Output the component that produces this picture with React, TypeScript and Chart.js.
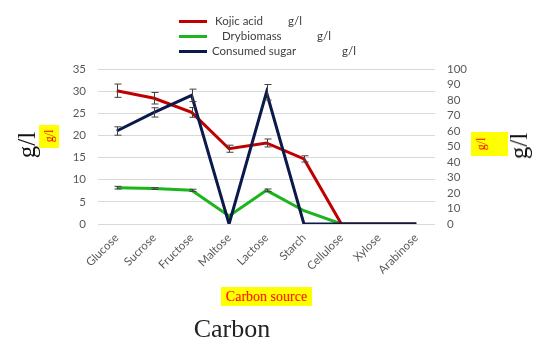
import React, { useEffect, useRef } from "react";
import { Chart, registerables } from "chart.js";

Chart.register(...registerables);

const categories = ["Glucose", "Sucrose", "Fructose", "Maltose", "Lactose", "Starch", "Cellulose", "Xylose", "Arabinose"];
const kojicAcid = [30.1, 28.4, 25.2, 17.0, 18.3, 14.7, 0, 0, 0];
const kojicErr = [1.5, 1.3, 1.1, 0.8, 0.9, 0.7, 0, 0, 0];
const dryBiomass = [8.2, 8.0, 7.6, 1.8, 7.6, 3.0, 0, 0, 0];
const dryErr = [0.3, 0.2, 0.25, 0, 0.3, 0, 0, 0, 0];
const consumedSugar = [60, 72, 83, 0, 85, 0, 0, 0, 0];
const sugarErr = [2.7, 3, 4, 0, 5, 0, 0, 0, 0];
const leftTicks = { min: 0, max: 35, step: 5 };
const rightTicks = { min: 0, max: 100, step: 10 };

const RED = "#C00000";
const GREEN = "#1DB51D";
const NAVY = "#0B1A4A";
const TICK_FONT = { family: "Lato, 'Liberation Sans', sans-serif", size: 11.5 };

const errorBarPlugin = {
  id: "errorBars",
  afterDatasetsDraw(chart: any) {
    const ctx = chart.ctx;
    const xScale = chart.scales.x;
    ctx.save();
    ctx.strokeStyle = "#404040";
    ctx.lineWidth = 1;
    chart.data.datasets.forEach((ds: any) => {
      const errs: number[] = ds.errors || [];
      const yScale = chart.scales[ds.yAxisID];
      ds.data.forEach((v: number, i: number) => {
        const e = errs[i];
        if (!e) return;
        const x = Math.round(xScale.getPixelForValue(i)) + 0.5;
        const yt = yScale.getPixelForValue(v + e);
        const yb = yScale.getPixelForValue(v - e);
        ctx.beginPath();
        ctx.moveTo(x, yt);
        ctx.lineTo(x, yb);
        ctx.moveTo(x - 3, yt);
        ctx.lineTo(x + 4, yt);
        ctx.moveTo(x - 3, yb);
        ctx.lineTo(x + 4, yb);
        ctx.stroke();
      });
    });
    ctx.restore();
  },
};

function Rotated({ cx, cy, text, style }: { cx: number; cy: number; text: string; style: any }) {
  return (
    <div
      style={{
        position: "absolute",
        left: cx,
        top: cy,
        transform: "translate(-50%, -50%) rotate(-90deg)",
        whiteSpace: "nowrap",
        ...style,
      }}
    >
      {text}
    </div>
  );
}

const legendItems = [
  { label: "Kojic acid", color: RED, y: 21.5, tx: 215, ux: 288 },
  { label: "Drybiomass", color: GREEN, y: 36.5, tx: 222, ux: 317 },
  { label: "Consumed sugar", color: NAVY, y: 51.5, tx: 212, ux: 342 },
];

export default function App() {
  const ref = useRef<HTMLCanvasElement>(null);

  useEffect(() => {
    if (!ref.current) return;
    const chart = new Chart(ref.current, {
      type: "line",
      data: {
        labels: categories,
        datasets: [
          {
            label: "Consumed sugar g/l",
            data: consumedSugar,
            errors: sugarErr,
            yAxisID: "y1",
            borderColor: NAVY,
            backgroundColor: NAVY,
            borderWidth: 3,
            pointRadius: 0,
            tension: 0,
            fill: false,
            order: 0,
          } as any,
          {
            label: "Kojic acid g/l",
            data: kojicAcid,
            errors: kojicErr,
            yAxisID: "y",
            borderColor: RED,
            backgroundColor: RED,
            borderWidth: 3,
            pointRadius: 0,
            tension: 0,
            fill: false,
            order: 1,
          } as any,
          {
            label: "Drybiomass g/l",
            data: dryBiomass,
            errors: dryErr,
            yAxisID: "y",
            borderColor: GREEN,
            backgroundColor: GREEN,
            borderWidth: 3,
            pointRadius: 0,
            tension: 0,
            fill: false,
            order: 2,
          } as any,
        ],
      },
      options: {
        animation: false,
        responsive: false,
        layout: { padding: { top: 69, left: 0, right: 0, bottom: 0 } },
        plugins: { legend: { display: false }, tooltip: { enabled: false } },
        scales: {
          x: {
            type: "category",
            offset: true,
            grid: { display: false, drawTicks: false },
            border: { display: false },
            ticks: {
              minRotation: 45,
              maxRotation: 45,
              autoSkip: false,
              padding: 7,
              color: "#595959",
              font: TICK_FONT,
            },
            afterFit: (s: any) => {
              s.height = 339 - 224;
            },
          },
          y: {
            position: "left",
            min: leftTicks.min,
            max: leftTicks.max,
            ticks: { stepSize: leftTicks.step, autoSkip: false, padding: 12, color: "#595959", font: TICK_FONT },
            grid: { color: "#d9d9d9", lineWidth: 1, drawTicks: false },
            border: { display: false },
            afterFit: (s: any) => {
              s.width = 98;
            },
          },
          y1: {
            position: "right",
            min: rightTicks.min,
            max: rightTicks.max,
            ticks: { stepSize: rightTicks.step, autoSkip: false, padding: 12, color: "#595959", font: TICK_FONT },
            grid: { display: false, drawTicks: false },
            border: { display: false },
            afterFit: (s: any) => {
              s.width = 99;
            },
          },
        },
      } as any,
      plugins: [errorBarPlugin],
    });
    return () => chart.destroy();
  }, []);

  const legendFont = {
    fontFamily: "Lato, 'Liberation Sans', sans-serif",
    fontSize: 11.5,
    color: "#404040",
  };

  return (
    <div
      style={{
        position: "fixed",
        left: 0,
        top: 0,
        width: 534,
        height: 339,
        background: "#ffffff",
        overflow: "hidden",
      }}
    >
      <canvas ref={ref} width={534} height={339} style={{ position: "absolute", left: 0, top: 0, width: 534, height: 339 }} />

      {legendItems.map((it) => (
        <React.Fragment key={it.label}>
          <div
            style={{
              position: "absolute",
              left: 179,
              top: it.y - 1.5,
              width: 28,
              height: 3,
              background: it.color,
            }}
          />
          <div style={{ position: "absolute", left: it.tx, top: it.y - 9, lineHeight: "16px", ...legendFont }}>{it.label}</div>
          <div style={{ position: "absolute", left: it.ux, top: it.y - 9, lineHeight: "16px", ...legendFont }}>g/l</div>
        </React.Fragment>
      ))}

      <Rotated cx={27} cy={145} text="g/l" style={{ fontFamily: "'Liberation Serif', 'DejaVu Serif', serif", fontSize: 25, color: "#111" }} />
      <div
        style={{
          position: "absolute",
          left: 39,
          top: 125,
          width: 20,
          height: 23,
          background: "#FFFF00",
        }}
      />
      <Rotated cx={49} cy={136} text="g/l" style={{ fontFamily: "'Liberation Serif', serif", fontSize: 12, color: "#FF0000" }} />

      <div
        style={{
          position: "absolute",
          left: 471,
          top: 132,
          width: 37,
          height: 24,
          background: "#FFFF00",
        }}
      />
      <Rotated cx={481} cy={144} text="g/l" style={{ fontFamily: "'Liberation Serif', serif", fontSize: 12, color: "#FF0000" }} />
      <Rotated cx={519} cy={146} text="g/l" style={{ fontFamily: "'Liberation Serif', 'DejaVu Serif', serif", fontSize: 25, color: "#111" }} />

      <div
        style={{
          position: "absolute",
          left: 221,
          top: 287,
          width: 91,
          height: 19,
          background: "#FFFF00",
          color: "#FF0000",
          fontFamily: "'Liberation Serif', serif",
          fontSize: 14,
          lineHeight: "19px",
          textAlign: "center",
          whiteSpace: "nowrap",
        }}
      >
        Carbon source
      </div>

      <div
        style={{
          position: "absolute",
          left: 232,
          top: 329,
          transform: "translate(-50%, -50%)",
          fontFamily: "'Liberation Serif', 'DejaVu Serif', serif",
          fontSize: 26,
          color: "#222",
          whiteSpace: "nowrap",
        }}
      >
        Carbon
      </div>
    </div>
  );
}
